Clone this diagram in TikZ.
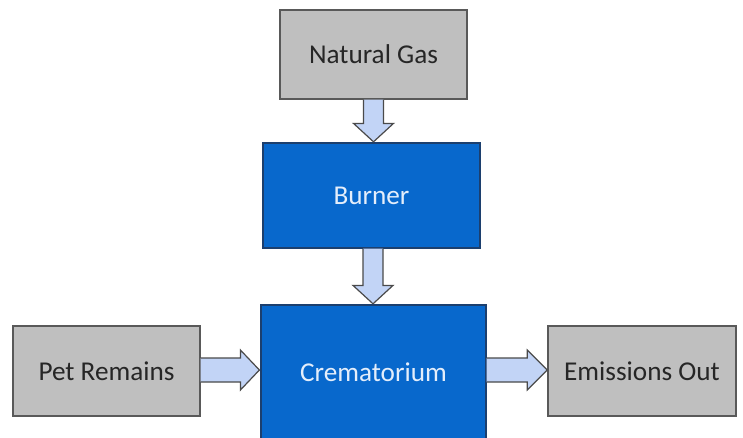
\documentclass[tikz,border=0pt]{standalone}
\usepackage{fontspec}
\setmainfont{Carlito}
\usetikzlibrary{calc}
\definecolor{grayfill}{HTML}{BFBFBF}
\definecolor{grayline}{HTML}{595959}
\definecolor{grayText}{HTML}{262626}
\definecolor{bluefill}{HTML}{0868CC}
\definecolor{blueline}{HTML}{1C3F6E}
\definecolor{blueText}{HTML}{E4EEFB}
\definecolor{arrowfill}{HTML}{C2D4F6}
\definecolor{arrowline}{HTML}{4A4A4A}
\tikzset{
  graybox/.style={draw=grayline, fill=grayfill, line width=1.4pt, text=grayText,
    font=\fontsize{27.2}{31}\selectfont, inner sep=0pt},
  bluebox/.style={draw=blueline, fill=bluefill, line width=1.2pt, text=blueText,
    font=\fontsize{27.2}{31}\selectfont, inner sep=0pt},
  blockarrow/.style={draw=arrowline, fill=arrowfill, line width=1.2pt, line join=miter}
}
\begin{document}
\begin{tikzpicture}[x=1pt, y=-1pt]
\useasboundingbox (0,0) rectangle (743,437);
\clip (0,0) rectangle (743,437);
\fill[white] (0,0) rectangle (743,437);

\node[graybox, minimum width=187pt, minimum height=89pt] (ng) at (373.5,54.5) {Natural Gas};
\node[bluebox, minimum width=217pt, minimum height=105pt] (burner) at (371.5,195.5) {Burner};
\node[bluebox, minimum width=225pt, minimum height=134pt] (crem) at (373.5,372) {Crematorium};
\node[graybox, minimum width=187pt, minimum height=90pt] (pet) at (106.5,371) {Pet Remains};
\node[graybox, minimum width=188pt, minimum height=90pt] (em) at (642,371) {Emissions Out};

% vertical block arrows
\draw[blockarrow] let \p1=(ng.south), \p2=(burner.north) in
  (\x1-10pt,\y1) -- (\x1-10pt,\y2+19pt) -- (\x1-20pt,\y2+19pt) -- (\x1,\y2+0.6pt)
  -- (\x1+20pt,\y2+19pt) -- (\x1+10pt,\y2+19pt) -- (\x1+10pt,\y1);
\draw[blockarrow] let \p1=(burner.south), \p2=(crem.north) in
  (\x1+1.5pt-10pt,\y1) -- (\x1+1.5pt-10pt,\y2+19pt) -- (\x1+1.5pt-20pt,\y2+19pt) -- (\x1+1.5pt,\y2+0.6pt)
  -- (\x1+1.5pt+20pt,\y2+19pt) -- (\x1+1.5pt+10pt,\y2+19pt) -- (\x1+1.5pt+10pt,\y1);

% horizontal block arrows
\draw[blockarrow] let \p1=(pet.east), \p2=(crem.west) in
  (\x1,\y1+1pt+12pt) -- (\x2-20pt,\y1+1pt+12pt) -- (\x2-20pt,\y1+1pt+20pt) -- (\x2-1pt,\y1+1pt)
  -- (\x2-20pt,\y1+1pt-20pt) -- (\x2-20pt,\y1+1pt-12pt) -- (\x1,\y1+1pt-12pt);
\draw[blockarrow] let \p1=(crem.east), \p2=(em.west) in
  (\x1,\y2+1pt+12pt) -- (\x2-20pt,\y2+1pt+12pt) -- (\x2-20pt,\y2+1pt+20pt) -- (\x2,\y2+1pt)
  -- (\x2-20pt,\y2+1pt-20pt) -- (\x2-20pt,\y2+1pt-12pt) -- (\x1,\y2+1pt-12pt);
\end{tikzpicture}
\end{document}
